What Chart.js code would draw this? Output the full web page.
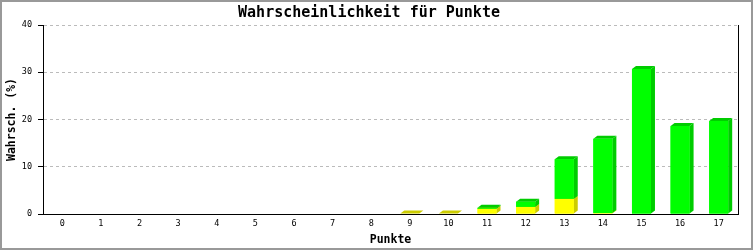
<!DOCTYPE html>
<html>
<head>
<meta charset="utf-8">
<script src="https://cdn.jsdelivr.net/npm/chart.js"></script>
<style>
  html, body { margin: 0; padding: 0; background: #fff; }
  #wrap { width: 753px; height: 250px; }
</style>
</head>
<body>
<div id="wrap"><canvas id="chart" width="753" height="250"></canvas></div>
<script>
// Daten: Punkte 0..17, Wahrscheinlichkeit in %
const punkte = ['0','1','2','3','4','5','6','7','8','9','10','11','12','13','14','15','16','17'];
const gelb = [0, 0, 0, 0, 0, 0, 0, 0, 0, 0.1, 0.1, 1.1, 1.5, 3.2, 0.2, 0, 0, 0];
const gruen = [0, 0, 0, 0, 0, 0, 0, 0, 0, 0, 0, 0.2, 1.1, 8.4, 15.7, 30.7, 18.6, 19.7];
const yTicks = [0, 10, 20, 30, 40];

const schrift = "'DejaVu Sans Mono', monospace";

// 3D-Effekt: Seite und Deckel je Balken zeichnen, dann Front nochmal drüber
const balken3d = {
  id: 'balken3d',
  afterDatasetsDraw(chart) {
    const ctx = chart.ctx;
    const dx = 4, dy = 3;
    const seiten = ['#cccc00', '#00cc00'];
    ctx.save();
    chart.data.datasets.forEach((ds, i) => {
      const meta = chart.getDatasetMeta(i);
      meta.data.forEach((bar, j) => {
        if (!ds.data[j]) return;
        const x0 = bar.x - bar.width / 2, x1 = bar.x + bar.width / 2;
        const top = bar.y, base = bar.base;
        ctx.fillStyle = seiten[i];
        // Seite
        ctx.beginPath();
        ctx.moveTo(x1, top); ctx.lineTo(x1 + dx, top - dy);
        ctx.lineTo(x1 + dx, base - dy); ctx.lineTo(x1, base);
        ctx.closePath(); ctx.fill();
        // Deckel
        ctx.beginPath();
        ctx.moveTo(x0, top); ctx.lineTo(x0 + dx, top - dy);
        ctx.lineTo(x1 + dx, top - dy); ctx.lineTo(x1, top);
        ctx.closePath(); ctx.fill();
        // Front
        ctx.fillStyle = ds.backgroundColor;
        ctx.fillRect(x0, top, x1 - x0, base - top);
      });
    });
    // rechte Achsenlinie
    const a = chart.chartArea;
    ctx.strokeStyle = '#000';
    ctx.lineWidth = 1;
    ctx.beginPath();
    ctx.moveTo(Math.round(a.right) + 0.5, a.top);
    ctx.lineTo(Math.round(a.right) + 0.5, a.bottom);
    ctx.stroke();
    ctx.restore();
  }
};

// Hintergrund und grauer Rahmen
const rahmen = {
  id: 'rahmen',
  beforeDraw(chart) {
    const ctx = chart.ctx;
    ctx.save();
    ctx.fillStyle = '#fff';
    ctx.fillRect(0, 0, chart.width, chart.height);
    ctx.restore();
  },
  afterDraw(chart) {
    const ctx = chart.ctx;
    ctx.save();
    ctx.strokeStyle = '#999';
    ctx.lineWidth = 2;
    ctx.strokeRect(1, 1, chart.width - 2, chart.height - 2);
    ctx.restore();
  }
};

new Chart(document.getElementById('chart'), {
  type: 'bar',
  data: {
    labels: punkte,
    datasets: [
      { label: 'gelb', data: gelb, backgroundColor: '#ffff00', borderWidth: 0, inflateAmount: 0 },
      { label: 'grün', data: gruen, backgroundColor: '#00ff00', borderWidth: 0, inflateAmount: 0 }
    ]
  },
  options: {
    responsive: false,
    animation: false,
    events: [],
    barThickness: 19,
    layout: { padding: { right: 15, left: 0, top: 0, bottom: 0 } },
    plugins: {
      legend: { display: false },
      tooltip: { enabled: false },
      title: {
        display: true,
        text: 'Wahrscheinlichkeit für Punkte',
        color: '#000',
        font: { family: schrift, size: 15, weight: 'bold', lineHeight: '15px' },
        padding: { top: 6, bottom: 4 }
      }
    },
    scales: {
      x: {
        stacked: true,
        grid: { display: false, drawTicks: false, tickLength: 0 },
        border: { display: true, color: '#000', width: 1 },
        ticks: { color: '#000', font: { family: schrift, size: 8.5 }, padding: 5, maxRotation: 0 },
        title: {
          display: true, text: 'Punkte', color: '#000',
          font: { family: schrift, size: 11.5, weight: 'bold', lineHeight: '14px' },
          padding: { top: 0, bottom: 3 }
        },
        afterFit: s => { s.height = 36; }
      },
      y: {
        stacked: true,
        min: 0, max: 40,
        afterBuildTicks: s => { s.ticks = yTicks.map(v => ({ value: v })); },
        grid: {
          color: '#bbbbbb', tickColor: '#000',
          tickLength: 5, tickBorderDash: [], lineWidth: 1
        },
        border: { display: true, color: '#000', width: 1, dash: [3, 3] },
        ticks: { color: '#000', font: { family: schrift, size: 8.5 }, padding: 6 },
        title: {
          display: true, text: 'Wahrsch. (%)', color: '#000',
          font: { family: schrift, size: 11.5, weight: 'bold', lineHeight: '14px' },
          padding: { top: 5, bottom: 0 }
        },
        afterFit: s => { s.width = 43; }
      }
    }
  },
  plugins: [rahmen, balken3d]
});
</script>
</body>
</html>
